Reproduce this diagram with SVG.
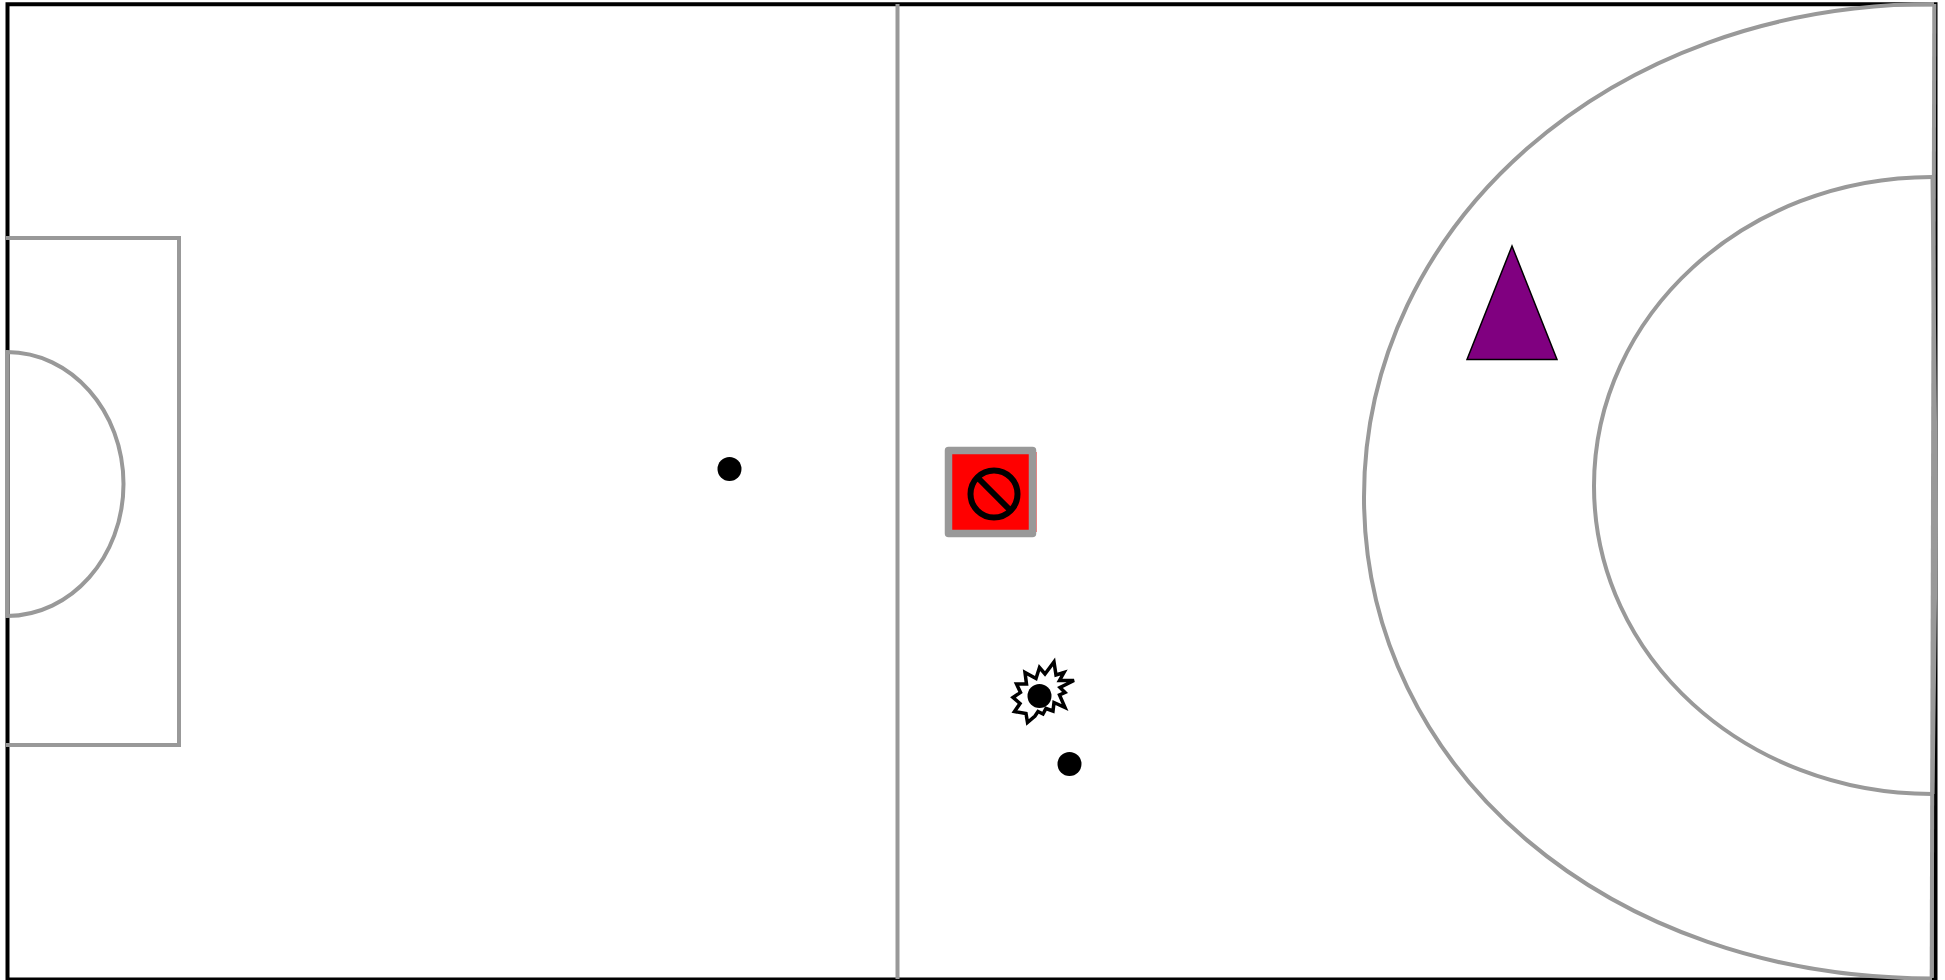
<svg xmlns="http://www.w3.org/2000/svg" width="1945" height="980" viewBox="0 0 1945 980">
<style>
.g{fill:none;stroke:#999;stroke-width:4}
.b{fill:none;stroke:#000;stroke-width:4}
.d{fill:#000}
</style>
<rect width="1945" height="980" fill="#fff"/>
<g id="court-border"><path class="b" d="M7.500 980V4.300H1935.500V980"/><path class="b" d="M7.500 979.500H1935.500"/></g>
<g id="court-lines">
<path class="g" d="M897.500 4V979"/>
<path class="g" d="M6 238H179V745H6"/>
<path class="g" d="M7 352C71 352 123.500 411 123.500 484C123.500 557 71 616 7 616Z"/>
<path class="g" d="M1934 4C1609 4 1364 225 1364 497C1364 770 1609 978.500 1932 978.500"/>
<path class="g" d="M1932 177C1745 177 1594 315 1594 486C1594 657 1745 794 1932 794"/>
<path class="g" d="M1934.300 4L1931.700 978"/>
<path class="g" d="M1932.500 177L1936 520L1932.500 794"/>
</g>
<g id="dot-1"><circle class="d" cx="729.500" cy="469" r="12"/></g>
<g id="dot-2"><circle class="d" cx="1069.500" cy="764" r="12"/></g>
<g id="burst"><polygon points="1054,662 1056,675 1064,672.500 1059.500,680.500 1074,680.500 1060,687.500 1065,692.500 1059.500,695 1065,707.500 1054,702.500 1053,711 1046,708.500 1043,714 1038,711.500 1035,716 1027.500,722.500 1026,713.500 1014.500,711.500 1020,703.500 1013,697.500 1020.500,692.500 1016.500,684 1026.500,684 1025,672.500 1036,678.500 1039.500,667.500 1045,674" fill="#fff" stroke="#000" stroke-width="3.500"/><circle class="d" cx="1039.500" cy="696" r="12"/></g>
<g id="blocked"><rect x="950" y="452" width="86.500" height="80" fill="#f00"/><rect x="948.500" y="450.500" width="84" height="83" fill="#f00" fill-opacity="0" stroke="#999" stroke-width="7.500" stroke-linejoin="round"/><circle cx="994" cy="494" r="23.500" fill="none" stroke="#000" stroke-width="6"/><line x1="977.500" y1="477.500" x2="1010.500" y2="510.500" stroke="#000" stroke-width="6"/></g>
<g id="cone"><polygon points="1512,246 1557,359.500 1467,359.500" fill="#800080" stroke="#000" stroke-width="1.500"/></g>
</svg>
